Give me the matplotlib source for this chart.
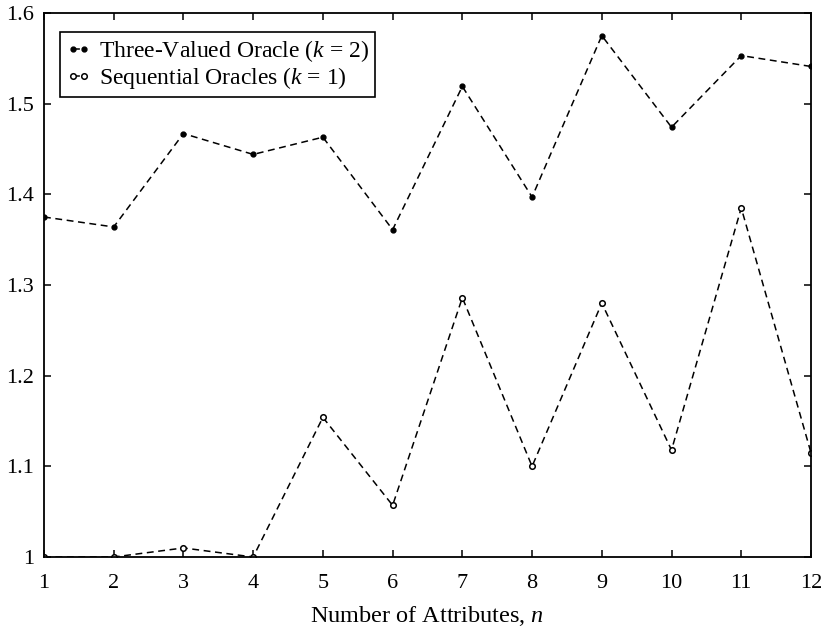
import matplotlib
matplotlib.use("Agg")
import matplotlib.pyplot as plt

n_attributes = [1, 2, 3, 4, 5, 6, 7, 8, 9, 10, 11, 12]
three_valued = [1.375, 1.364, 1.467, 1.444, 1.463, 1.361,
                1.519, 1.397, 1.575, 1.474, 1.553, 1.541]
sequential = [1.000, 1.000, 1.010, 1.000, 1.154, 1.057,
              1.286, 1.100, 1.280, 1.118, 1.385, 1.115]
x_ticks = list(range(1, 13))
y_ticks = [1.0, 1.1, 1.2, 1.3, 1.4, 1.5, 1.6]
y_tick_labels = ["1", "1.1", "1.2", "1.3", "1.4", "1.5", "1.6"]

plt.rcParams["font.family"] = ["Liberation Serif", "DejaVu Serif"]
plt.rcParams["mathtext.fontset"] = "custom"
plt.rcParams["mathtext.it"] = "Liberation Serif:italic"
plt.rcParams["mathtext.rm"] = "Liberation Serif"

fig = plt.figure(figsize=(8.22, 6.39), dpi=100)
ax = fig.add_axes([0.0535, 0.1283, 0.9331, 0.8514])

dash = (0, (4.5, 3.0))
ax.plot(n_attributes, three_valued, color="black", linestyle=dash, linewidth=1.1,
        marker="o", markersize=3.5, markerfacecolor="black",
        label=r"Three-Valued Oracle ($k$ = 2)")
ax.plot(n_attributes, sequential, color="black", linestyle=dash, linewidth=1.1,
        marker="o", markersize=4, markerfacecolor="white", markeredgewidth=1.1,
        label=r"Sequential Oracles ($k$ = 1)")

ax.set_xlim(1, 12)
ax.set_ylim(1.0, 1.6)
ax.set_xticks(x_ticks)
ax.set_yticks(y_ticks)
ax.set_yticklabels(y_tick_labels)

ax.tick_params(direction="in", top=True, right=True, length=5, width=1.1,
               labelsize=16)
ax.tick_params(axis="x", pad=12)
ax.tick_params(axis="y", pad=7)
for s in ax.spines.values():
    s.set_linewidth(1.3)

ax.set_xlabel(r"Number of Attributes, $n$", fontsize=17.5, labelpad=8)

leg = ax.legend(loc="upper left", bbox_to_anchor=(0.0205, 0.965), fontsize=17,
                numpoints=2, handlelength=1.1, handletextpad=0.3,
                borderpad=0.25, labelspacing=0.05, fancybox=False,
                framealpha=1, edgecolor="black", borderaxespad=0.0)
leg.get_frame().set_linewidth(1.2)

fig.savefig("out.png", dpi=100)
